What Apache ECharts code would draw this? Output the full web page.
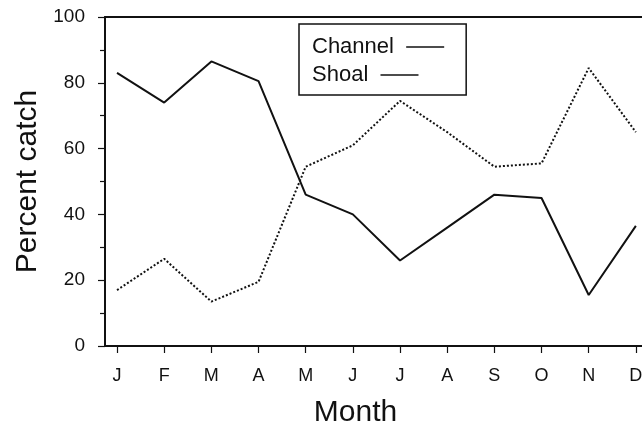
<!DOCTYPE html>
<html><head><meta charset="utf-8">
<script src="https://cdn.jsdelivr.net/npm/echarts@6/dist/echarts.min.js"></script>
<style>html,body{margin:0;padding:0;background:#fff}#c{width:642px;height:425px}</style>
</head><body><div id="c"></div>
<script>
const months = ['J','F','M','A','M','J','J','A','S','O','N','D'];
const channel = [83, 74, 86.5, 80.5, 46, 40, 26, 36, 46, 45, 15.5, 36.5];
const shoal = [17, 26.5, 13.5, 19.5, 54.5, 61, 74.5, 65, 54.5, 55.5, 84.5, 65];
const yTicks = [0, 20, 40, 60, 80, 100];

const font = 'Liberation Sans, Arial, Helvetica, sans-serif';
const idx = months.map((m, i) => i);
const chart = echarts.init(document.getElementById('c'), null, {renderer: 'canvas'});
chart.setOption({
  animation: false,
  backgroundColor: '#fff',
  grid: {left: 105, right: 0, top: 17, bottom: 79, containLabel: false, outerBoundsMode: 'none'},
  legend: {
    orient: 'vertical', left: 299, top: 24,
    padding: [12, 22, 9, 8], itemGap: 6,
    borderColor: '#111', borderWidth: 1.5,
    icon: 'none', itemWidth: 0, itemHeight: 10,
    textStyle: {fontFamily: font, fontSize: 22, color: '#111',
      rich: {ln: {width: 38, height: 1.6, backgroundColor: '#111', verticalAlign: 'middle'}}},
    formatter: name => name + '  {ln| }',
    data: ['Channel', 'Shoal']
  },
  xAxis: [{
    type: 'value', min: -0.255, max: 11.13, position: 'bottom',
    name: 'Month', nameLocation: 'middle', nameGap: 52,
    nameTextStyle: {fontFamily: font, fontSize: 30, color: '#111', padding: [0, 36, 0, 0]},
    axisLine: {show: true, onZero: false, lineStyle: {color: '#111', width: 2}},
    axisTick: {show: true, length: 7, customValues: idx, lineStyle: {color: '#111', width: 1.2}},
    axisLabel: {customValues: idx, margin: 21, fontFamily: font, fontSize: 18, color: '#111',
      formatter: v => months[Math.round(v)]},
    splitLine: {show: false}
  }, {
    type: 'value', min: -0.255, max: 11.13, position: 'top',
    axisLine: {show: true, onZero: false, lineStyle: {color: '#111', width: 2}},
    axisTick: {show: false}, axisLabel: {show: false}, splitLine: {show: false}
  }],
  yAxis: {
    type: 'value', min: 0, max: 100, interval: 20,
    name: 'Percent catch', nameLocation: 'middle', nameGap: 62,
    nameTextStyle: {fontFamily: font, fontSize: 30, color: '#111'},
    axisLine: {show: true, onZero: false, lineStyle: {color: '#111', width: 2}},
    axisTick: {show: true, length: 7, lineStyle: {color: '#111', width: 1.2}},
    minorTick: {show: true, splitNumber: 2, length: 5, lineStyle: {color: '#111', width: 1.2}},
    axisLabel: {margin: 20, fontFamily: font, fontSize: 19, color: '#111',
      customValues: yTicks},
    splitLine: {show: false}
  },
  series: [{
    name: 'Channel', type: 'line', symbol: 'none',
    data: channel.map((v, i) => [i, v]),
    lineStyle: {color: '#111', width: 2}
  }, {
    name: 'Shoal', type: 'line', symbol: 'none',
    data: shoal.map((v, i) => [i, v]),
    lineStyle: {color: '#111', width: 2, type: [2, 2]}
  }]
});
</script></body></html>
